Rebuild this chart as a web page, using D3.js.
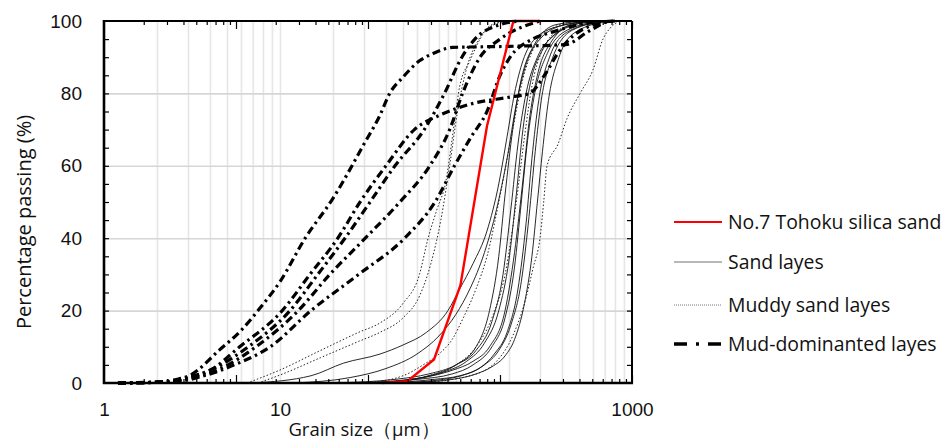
<!DOCTYPE html>
<html>
<head>
<meta charset="utf-8">
<script src="https://cdn.jsdelivr.net/npm/d3@7"></script>
<style>
  body { margin: 0; background: #fff; }
  svg { font-family: "Open Sans", "Noto Sans", sans-serif; }
</style>
</head>
<body>
<svg id="chart" width="945" height="441"></svg>
<script>
// grain size (um) / percentage passing (%)
const silicaSize = [38, 53, 75, 106, 150, 212, 300];
const silicaPass = [0, 0.5, 6.5, 27, 71, 100, 100];

const sandLayers = [
  [[7,0],[15,2],[23,5.5],[37,8],[50,10.5],[68,14],[90,20],[105,26],[125,33],[150,42],[175,55],[195,68],[215,80],[240,89],[280,95],[380,98.5],[600,100]],
  [[12,0],[25,1.5],[40,4],[60,8],[80,13],[100,19],[120,26],[145,36],[170,48],[195,62],[220,77],[250,88],[300,95],[420,99],[650,100]],
  [[20,0],[45,1],[70,2.5],[100,5],[130,9],[160,17],[185,30],[205,48],[225,66],[250,80],[290,90],[360,96],[520,100]],
  [[25,0],[55,1],[85,3],[115,6],[145,11],[175,20],[200,34],[220,52],[240,70],[265,83],[310,92],[400,97.5],[600,100]],
  [[30,0],[60,1],[95,2.5],[125,5],[160,10],[190,18],[215,32],[235,50],[255,67],[280,80],[330,91],[430,97.5],[680,100]],
  [[32,0],[65,1.5],[95,3.5],[125,6],[155,10],[190,20],[215,36],[240,56],[260,72],[290,85],[345,94],[460,99],[720,100]],
  [[40,0],[75,1],[105,2],[135,4],[165,8],[195,14],[225,26],[250,44],[270,62],[295,78],[340,90],[430,97],[700,100]],
  [[45,0],[85,1],[115,2.5],[145,5],[175,9],[205,16],[235,28],[260,46],[282,64],[305,78],[355,90],[460,97.5],[720,100]],
  [[50,0],[95,1],[130,2.5],[160,4.5],[190,7.5],[215,12],[245,22],[270,35],[290,50],[310,64],[335,78],[385,90],[480,97],[750,100]],
  [[35,0],[70,2],[100,5],[130,10],[155,20],[175,35],[190,52],[210,70],[235,84],[275,93],[370,99],[560,100]]
];

const muddySandLayers = [
  [[6.5,0],[10,3.6],[17,9],[28,14],[37,16.6],[50,22],[62,30],[69,39.5],[78,48],[87,55],[98,72],[105,82],[120,89],[137,95],[155,98.6],[190,100]],
  [[7.5,0],[10,2.2],[17,7],[28,11.5],[37,14],[50,18],[62,24],[72,33],[82,45],[92,60],[102,75],[115,87],[135,95],[165,99],[220,100]],
  [[30,0],[50,2],[65,5],[80,8],[95,12],[110,18],[130,26],[150,35],[180,53],[210,70],[240,84],[280,93],[350,98],[500,100]],
  [[40,0],[70,2],[100,5],[130,10],[160,18],[190,30],[220,50],[245,68],[270,82],[310,92],[400,98],[600,100]],
  [[60,0],[120,2],[170,6],[210,13],[245,22],[275,32],[300,40],[315,50],[329,60],[380,66],[427,73],[507,80],[600,86.5],[684,95],[750,98],[850,100]]
];

const mudLayers = [
  [[1.2,0],[2,0.3],[2.6,1],[3.1,2.2],[4.5,9],[6,14.5],[7.7,20.7],[10,28],[13.9,40],[20,51],[30,66],[37,74],[42,80],[50,84.5],[62,89],[74,91],[96,92.7],[200,93],[420,93.5],[560,97],[720,100]],
  [[1.2,0],[2.2,0.3],[3,1.5],[4,3.5],[5.9,10],[10.3,20],[14.8,30],[21.3,40],[28.5,50],[40,60],[58,70],[81,74],[120,77],[203,79],[262,80],[318,85],[390,92],[540,98],[800,100]],
  [[1.2,0],[2.2,0.3],[3,1.5],[4.2,4],[6.6,10],[11.4,20],[16.4,30],[23.4,40],[32.5,50],[45,60],[66,70],[86,80],[108,90],[128,95],[178,99],[230,100]],
  [[1.2,0],[2.3,0.3],[3.2,1.5],[4.6,4],[7.3,10],[12.7,20],[19.2,30],[30.5,40],[48,50],[71,60],[92,70],[109,80],[137,90],[178,95],[300,100]],
  [[1.2,0],[2.5,0.3],[3.7,2],[5.5,5],[8.8,10],[15,20],[28,30],[51,40],[76,50],[98,60],[122,68],[150,75],[178,85],[203,90],[272,95],[356,97],[500,99],[800,100]]
];

const xTicks = [1, 10, 100, 1000];
const yTicks = [0, 20, 40, 60, 80, 100];
const legendLabels = ["No.7 Tohoku silica sand", "Sand layes", "Muddy sand layes", "Mud-dominanted layes"];

const pL = 104, pR = 632, pT = 21, pB = 383;
const svg = d3.select('#chart');

const x = d3.scaleLog().domain([1, 1000]).range([pL, pR]);
const y = d3.scaleLinear().domain([0, 100]).range([pB, pT]);
// secondary log scale used only for the inner tick marks on top/bottom
const x2 = d3.scaleLog().domain([1, 10000]).range([pL, pR]);

// minor log values for vertical grid
const gridX = [];
for (let k = 0; k < 3; k++) for (let m = 2; m <= 10; m++) gridX.push(m * Math.pow(10, k));
gridX.pop();

svg.append('g')
  .attr('transform', `translate(0, ${pB})`)
  .call(d3.axisBottom(x).tickValues(gridX).tickSize(-(pB - pT)).tickFormat(''))
  .call(g => g.select('.domain').remove())
  .call(g => g.selectAll('line').attr('stroke', '#e6e6e6').attr('stroke-width', 1.6));

svg.append('g')
  .attr('transform', `translate(${pL}, 0)`)
  .call(d3.axisLeft(y).tickValues([20, 40, 60, 80]).tickSize(-(pR - pL)).tickFormat(''))
  .call(g => g.select('.domain').remove())
  .call(g => g.selectAll('line').attr('stroke', '#d6d6d6').attr('stroke-width', 1.6));

// curves
const line = d3.line().x(d => x(d[0])).y(d => y(d[1])).curve(d3.curveMonotoneX);

svg.append('g').selectAll('path')
  .data(sandLayers).enter().append('path')
  .attr('d', line).attr('fill', 'none')
  .attr('stroke', '#111').attr('stroke-width', 0.9);

svg.append('g').selectAll('path')
  .data(muddySandLayers).enter().append('path')
  .attr('d', line).attr('fill', 'none')
  .attr('stroke', '#222').attr('stroke-width', 1)
  .attr('stroke-dasharray', '1.5,2');

svg.append('g').selectAll('path')
  .data(mudLayers).enter().append('path')
  .attr('d', line).attr('fill', 'none')
  .attr('stroke', '#000').attr('stroke-width', 3.2)
  .attr('stroke-dasharray', '8,4,2.5,4');

const silica = silicaSize.map((s, i) => [s, silicaPass[i]]);
svg.append('path')
  .datum(silica)
  .attr('d', d3.line().x(d => x(d[0])).y(d => y(d[1])))
  .attr('fill', 'none').attr('stroke', '#ff0000').attr('stroke-width', 2.4);

// frame
svg.append('line').attr('x1', pL).attr('x2', pR).attr('y1', pT).attr('y2', pT).attr('stroke', '#000').attr('stroke-width', 2);
svg.append('line').attr('x1', pR).attr('x2', pR).attr('y1', pT).attr('y2', pB).attr('stroke', '#000').attr('stroke-width', 2);
svg.append('line').attr('x1', pL).attr('x2', pL).attr('y1', pT - 1).attr('y2', pB + 1).attr('stroke', '#000').attr('stroke-width', 2.6);
svg.append('line').attr('x1', pL - 1).attr('x2', pR + 1).attr('y1', pB).attr('y2', pB).attr('stroke', '#000').attr('stroke-width', 2.6);

// inner ticks
const minorY = d3.range(5, 100, 5);
svg.append('g').attr('transform', `translate(${pL}, 0)`)
  .call(d3.axisLeft(y).tickValues(minorY).tickSize(-5).tickFormat(''))
  .call(g => g.select('.domain').remove())
  .call(g => g.selectAll('line').attr('stroke-width', 1.2));
svg.append('g').attr('transform', `translate(${pR}, 0)`)
  .call(d3.axisRight(y).tickValues(minorY).tickSize(-5).tickFormat(''))
  .call(g => g.select('.domain').remove())
  .call(g => g.selectAll('line').attr('stroke-width', 1.2));

const x2Ticks = [];
for (let k = 0; k < 4; k++) for (let m = 2; m <= 10; m++) x2Ticks.push(m * Math.pow(10, k));
const isMajor = d => Math.abs(Math.log10(d) - Math.round(Math.log10(d))) < 1e-9;
[['top', pT, d3.axisTop], ['bottom', pB, d3.axisBottom]].forEach(([name, pos, ax]) => {
  svg.append('g').attr('transform', `translate(0, ${pos})`)
    .call(ax(x2).tickValues(x2Ticks).tickSize(-4).tickFormat(''))
    .call(g => g.select('.domain').remove())
    .call(g => g.selectAll('line').attr('stroke-width', 1.2))
    .call(g => g.selectAll('.tick').filter(isMajor).select('line')
      .attr('y2', name === 'top' ? 8 : -8));
});

// tick labels
svg.append('g').attr('transform', `translate(${pL}, 0)`)
  .call(d3.axisLeft(y).tickValues(yTicks).tickSize(0).tickPadding(22))
  .call(g => g.select('.domain').remove())
  .call(g => g.selectAll('text').attr('font-size', 19).attr('fill', '#111'));

svg.append('g').attr('transform', `translate(0, ${pB})`)
  .call(d3.axisBottom(x).tickValues(xTicks).tickFormat(d3.format('d')).tickSize(0).tickPadding(20))
  .call(g => g.select('.domain').remove())
  .call(g => g.selectAll('text').attr('font-size', 19).attr('fill', '#111'));

// axis titles
svg.append('text')
  .attr('x', 364).attr('y', 436)
  .attr('text-anchor', 'middle')
  .style('font-size', '18.5px').attr('fill', '#111')
  .text('Grain size（µm）');

svg.append('text')
  .attr('transform', 'translate(31, 222) rotate(-90)')
  .attr('text-anchor', 'middle')
  .style('font-size', '20px').attr('fill', '#111')
  .text('Percentage passing (%)');

// legend
const legendY = [222, 262, 305, 344];
const lg = svg.append('g');
legendLabels.forEach((t, i) => {
  const ln = lg.append('line')
    .attr('x1', 674).attr('x2', 722)
    .attr('y1', legendY[i]).attr('y2', legendY[i]);
  if (i === 0) ln.attr('stroke', '#ff0000').attr('stroke-width', 2);
  if (i === 1) ln.attr('stroke', '#a0a0a0').attr('stroke-width', 1.5);
  if (i === 2) ln.attr('stroke', '#777').attr('stroke-width', 1).attr('stroke-dasharray', '1,1');
  if (i === 3) ln.attr('stroke', '#000').attr('stroke-width', 3.5).attr('stroke-dasharray', '13,9,3,9');
  lg.append('text')
    .attr('x', 728).attr('y', legendY[i] + 7)
    .style('font-size', '19.4px').attr('fill', '#111')
    .text(t);
});
</script>
</body>
</html>
